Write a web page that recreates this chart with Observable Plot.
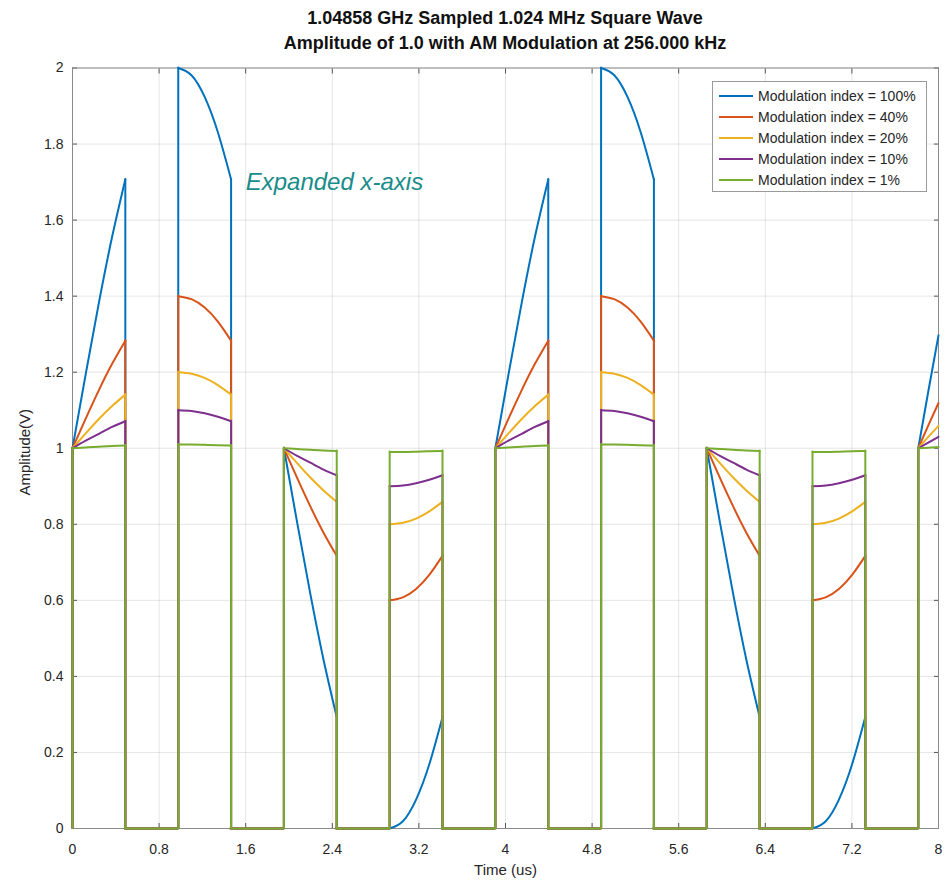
<!DOCTYPE html>
<html>
<head>
<meta charset="utf-8">
<script src="https://cdn.jsdelivr.net/npm/d3@7"></script>
<script src="https://cdn.jsdelivr.net/npm/@observablehq/plot@0.6"></script>
<style>
  body { margin: 0; background: #fff; font-family: "Liberation Sans", Arial, Helvetica, sans-serif; }
  #wrap { position: relative; width: 945px; height: 884px; }
  #title { height: 58px; box-sizing: border-box; padding-left: 65px; padding-top: 6px; text-align: center; font-weight: bold; font-size: 18px; line-height: 25px; color: #111; }
  #legend { position: absolute; left: 712px; top: 81px; width: 213px; height: 109px; border: 1px solid #9a9a9a; background: #fff; font-size: 14px; color: #262626; }
  .row { position: absolute; left: 0; height: 20px; display: flex; align-items: center; }
  .sw { width: 34px; height: 2px; margin-left: 6px; margin-right: 5px; }
</style>
</head>
<body>
<div id="wrap">
  <div id="title"></div>
  <div id="chart"></div>
  <div id="legend"></div>
</div>
<script>
// ---- data ----
const titleLines = ["1.04858 GHz Sampled 1.024 MHz Square Wave", "Amplitude of 1.0 with AM Modulation at 256.000 kHz"];
const xLabel = "Time (us)";
const yLabel = "Amplitude(V)";
const annotation = ["Expanded x-axis"];

const xTicks = [0, 0.8, 1.6, 2.4, 3.2, 4, 4.8, 5.6, 6.4, 7.2, 8];
const xTickLabels = ["0", "0.8", "1.6", "2.4", "3.2", "4", "4.8", "5.6", "6.4", "7.2", "8"];
const yTicks = [0, 0.2, 0.4, 0.6, 0.8, 1, 1.2, 1.4, 1.6, 1.8, 2];
const yTickLabels = ["0", "0.2", "0.4", "0.6", "0.8", "1", "1.2", "1.4", "1.6", "1.8", "2"];

const seriesNames = ["Modulation index = 100%", "Modulation index = 40%", "Modulation index = 20%", "Modulation index = 10%", "Modulation index = 1%"];
const seriesColors = ["#0072BD", "#D95319", "#EDB120", "#7E2F8E", "#77AC30"];

// high (on) intervals of the square wave, in us
const segStart = [0, 0.977, 1.953, 2.930, 3.906, 4.883, 5.859, 6.836, 7.813];
const segEnd   = [0.488, 1.465, 2.441, 3.418, 4.395, 5.371, 6.348, 7.324, 8.0];
// times at which the top of each high interval was read
const sampleTimes = [
  [0, 0.122, 0.244, 0.366, 0.488],
  [0.977, 1.099, 1.221, 1.343, 1.465],
  [1.953, 2.075, 2.197, 2.319, 2.441],
  [2.930, 3.052, 3.174, 3.296, 3.418],
  [3.906, 4.028, 4.150, 4.272, 4.395],
  [4.883, 5.005, 5.127, 5.249, 5.371],
  [5.859, 5.981, 6.103, 6.225, 6.348],
  [6.836, 6.958, 7.080, 7.202, 7.324],
  [7.813, 7.906, 8.0]
];
// values read along each high interval
const mod100 = [
  [1.000, 1.195, 1.383, 1.556, 1.707],
  [2.000, 1.981, 1.924, 1.831, 1.707],
  [1.000, 0.805, 0.617, 0.444, 0.293],
  [0.000, 0.019, 0.076, 0.169, 0.293],
  [1.000, 1.195, 1.383, 1.556, 1.707],
  [2.000, 1.981, 1.924, 1.831, 1.707],
  [1.000, 0.805, 0.617, 0.444, 0.293],
  [0.000, 0.019, 0.076, 0.169, 0.293],
  [1.000, 1.150, 1.297]
];
const mod40 = [
  [1.000, 1.078, 1.153, 1.222, 1.283],
  [1.400, 1.392, 1.370, 1.333, 1.283],
  [1.000, 0.922, 0.847, 0.778, 0.717],
  [0.600, 0.608, 0.630, 0.667, 0.717],
  [1.000, 1.078, 1.153, 1.222, 1.283],
  [1.400, 1.392, 1.370, 1.333, 1.283],
  [1.000, 0.922, 0.847, 0.778, 0.717],
  [0.600, 0.608, 0.630, 0.667, 0.717],
  [1.000, 1.060, 1.119]
];
const mod20 = [
  [1.000, 1.039, 1.077, 1.111, 1.141],
  [1.200, 1.196, 1.185, 1.166, 1.141],
  [1.000, 0.961, 0.923, 0.889, 0.859],
  [0.800, 0.804, 0.815, 0.834, 0.859],
  [1.000, 1.039, 1.077, 1.111, 1.141],
  [1.200, 1.196, 1.185, 1.166, 1.141],
  [1.000, 0.961, 0.923, 0.889, 0.859],
  [0.800, 0.804, 0.815, 0.834, 0.859],
  [1.000, 1.030, 1.059]
];
const mod10 = [
  [1.000, 1.020, 1.038, 1.056, 1.071],
  [1.100, 1.098, 1.092, 1.083, 1.071],
  [1.000, 0.980, 0.962, 0.944, 0.929],
  [0.900, 0.902, 0.908, 0.917, 0.929],
  [1.000, 1.020, 1.038, 1.056, 1.071],
  [1.100, 1.098, 1.092, 1.083, 1.071],
  [1.000, 0.980, 0.962, 0.944, 0.929],
  [0.900, 0.902, 0.908, 0.917, 0.929],
  [1.000, 1.015, 1.030]
];
const mod1 = [
  [1.000, 1.002, 1.004, 1.006, 1.007],
  [1.010, 1.010, 1.009, 1.008, 1.007],
  [1.000, 0.998, 0.996, 0.994, 0.993],
  [0.990, 0.990, 0.991, 0.992, 0.993],
  [1.000, 1.002, 1.004, 1.006, 1.007],
  [1.010, 1.010, 1.009, 1.008, 1.007],
  [1.000, 0.998, 0.996, 0.994, 0.993],
  [0.990, 0.990, 0.991, 0.992, 0.993],
  [1.000, 1.0015, 1.003]
];
const seriesValues = [mod100, mod40, mod20, mod10, mod1];

// ---- build tables ----
document.getElementById("title").innerHTML = titleLines.map(t => `<div>${t}</div>`).join("");

const lastSeg = segStart.length - 1;
const lows = [];
for (let i = 0; i < lastSeg; i++) lows.push({x1: segEnd[i], x2: segStart[i + 1]});

const seriesMarks = [];
seriesValues.forEach((vals, s) => {
  const color = seriesColors[s];
  const tops = [];
  const verts = [];
  vals.forEach((seg, i) => {
    seg.forEach((v, j) => tops.push({seg: i, x: sampleTimes[i][j], y: v}));
    verts.push({x: segStart[i], y: seg[0]});
    if (i < lastSeg) verts.push({x: segEnd[i], y: seg[seg.length - 1]});
  });
  seriesMarks.push(
    Plot.line(tops, {x: "x", y: "y", z: "seg", curve: "natural", stroke: color, strokeWidth: 2}),
    Plot.ruleX(verts, {x: "x", y1: 0, y2: "y", stroke: color, strokeWidth: 2, strokeLinecap: "round"}),
    Plot.ruleY(lows, {x1: "x1", x2: "x2", y: 0, stroke: color, strokeWidth: 2, strokeLinecap: "round"})
  );
});

const chart = Plot.plot({
  width: 945,
  height: 826,
  marginLeft: 72,
  marginRight: 7,
  marginTop: 9.5,
  marginBottom: 56,
  style: {fontFamily: '"Liberation Sans", Arial, Helvetica, sans-serif', fontSize: "14px", color: "#262626", background: "#fff"},
  x: {domain: [0, 8]},
  y: {domain: [0, 2]},
  marks: [
    Plot.gridX(xTicks, {stroke: "#000", strokeOpacity: 0.1}),
    Plot.gridY(yTicks, {stroke: "#000", strokeOpacity: 0.1}),
    Plot.axisX(xTicks, {anchor: "bottom", tickSize: -5, tickPadding: 21, tickFormat: (d, i) => xTickLabels[i], stroke: "#555", label: null, fill: "#262626"}),
    Plot.axisX(xTicks, {anchor: "top", tickSize: -5, tickFormat: () => "", stroke: "#555", label: null}),
    Plot.axisY(yTicks, {anchor: "left", tickSize: -5, tickPadding: 14, tickFormat: (d, i) => yTickLabels[i], stroke: "#555", label: null, fill: "#262626"}),
    Plot.axisY(yTicks, {anchor: "right", tickSize: -5, tickFormat: () => "", stroke: "#555", label: null}),
    Plot.frame({stroke: "#8a8a8a"}),
    ...seriesMarks,
    Plot.text(annotation, {x: 1.6, y: 1.70, text: d => d, textAnchor: "start", fontSize: 24, fontStyle: "italic", fill: "#1a8c8a"}),
    Plot.text([xLabel], {frameAnchor: "bottom", dy: 46, text: d => d, fontSize: 15, fill: "#262626"}),
    Plot.text([yLabel], {frameAnchor: "left", textAnchor: "middle", dx: -47, dy: 4, rotate: -90, text: d => d, fontSize: 15, fill: "#262626"})
  ]
});
document.getElementById("chart").appendChild(chart);

const legend = document.getElementById("legend");
seriesNames.forEach((name, i) => {
  const row = document.createElement("div");
  row.className = "row";
  row.style.top = (4 + i * 21) + "px";
  row.innerHTML = `<span class="sw" style="background:${seriesColors[i]}"></span><span>${name}</span>`;
  legend.appendChild(row);
});
</script>
</body>
</html>
